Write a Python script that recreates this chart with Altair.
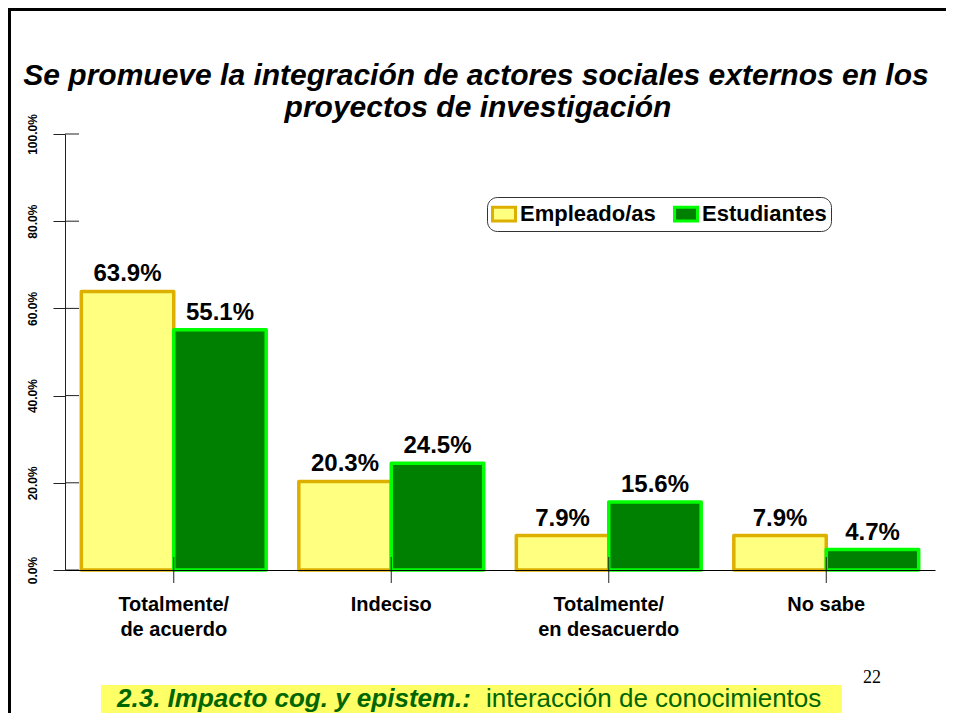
import altair as alt
import pandas as pd

categories = ["Totalmente/\nde acuerdo", "Indeciso", "Totalmente/\nen desacuerdo", "No sabe"]
series = ["Empleado/as", "Estudiantes"]
empleados = [0.639, 0.203, 0.079, 0.079]
estudiantes = [0.551, 0.245, 0.156, 0.047]
y_ticks = [0.0, 0.2, 0.4, 0.6, 0.8, 1.0]
fill_colors = ["#FFFF80", "#008000"]
stroke_colors = ["#DDB000", "#00FF00"]
title_lines = ["Se promueve la integración de actores sociales externos en los",
               "proyectos de investigación"]
footer_bold = "2.3. Impacto cog. y epistem.:"
footer_regular = "interacción de conocimientos"
page_number = "22"

rows = []
for c, a, b in zip(categories, empleados, estudiantes):
    rows.append({"Categoria": c, "Grupo": series[0], "Valor": a})
    rows.append({"Categoria": c, "Grupo": series[1], "Valor": b})
df = pd.DataFrame(rows)

W, H = 870, 436
FONT = "Liberation Sans"

xscale = alt.Scale(domain=categories, paddingInner=0.15, paddingOuter=0.075)
yscale = alt.Scale(domain=[0, 1])

x_enc = alt.X("Categoria:N", scale=xscale, sort=categories,
              axis=alt.Axis(title=None, labelAngle=0, ticks=False, labelPadding=24,
                            labelFontSize=20, labelFontWeight="bold", labelFont=FONT,
                            labelColor="black", labelLineHeight=25,
                            labelExpr="split(datum.label, '\\n')",
                            domainColor="black", domainWidth=1.2, zindex=1))
y_axis = alt.Axis(title=None, values=y_ticks, format=".1%", labelAngle=-90,
                  labelAlign="center", labelBaseline="bottom", labelFontSize=12,
                  labelFontWeight="bold", labelFont=FONT, labelColor="black",
                  tickSize=12, tickColor="#222", domainColor="#222",
                  labelPadding=14, grid=False)

legend = alt.Legend(title=None, orient="none", legendX=422, legendY=63,
                    direction="horizontal", strokeColor="#333", cornerRadius=10,
                    padding=4, labelFontSize=22, labelFontWeight="bold", labelFont=FONT,
                    labelColor="black", symbolType="M-1,-0.6H1V0.6H-1Z", symbolSize=529,
                    symbolStrokeWidth=3, columnPadding=12, labelOffset=3, fillColor="white")

xoff = alt.XOffset("Grupo:N", scale=alt.Scale(domain=series, paddingInner=0))

bars = alt.Chart(df).mark_bar(strokeWidth=3.5, strokeJoin="round").encode(
    x=x_enc,
    xOffset=xoff,
    y=alt.Y("Valor:Q", scale=yscale, axis=y_axis),
    color=alt.Color("Grupo:N", scale=alt.Scale(domain=series, range=fill_colors), legend=legend),
    stroke=alt.Stroke("Grupo:N", scale=alt.Scale(domain=series, range=stroke_colors), legend=legend),
)

labels = alt.Chart(df).mark_text(dy=-10, fontSize=24, fontWeight="bold", font=FONT,
                                 color="black", baseline="alphabetic").encode(
    x=x_enc,
    xOffset=xoff,
    y=alt.Y("Valor:Q", scale=yscale, axis=y_axis),
    text=alt.Text("Valor:Q", format=".1%"),
)

tick_df = pd.DataFrame({"Valor": y_ticks})
inner_ticks = alt.Chart(tick_df).mark_rule(color="#222", strokeWidth=1).encode(
    y=alt.Y("Valor:Q", scale=yscale, axis=y_axis),
    x=alt.value(0), x2=alt.value(14),
)

cat_df = pd.DataFrame({"Categoria": categories})
cat_ticks = alt.Chart(cat_df).mark_rule(color="#222", strokeWidth=1).encode(
    x=x_enc, y=alt.value(H - 13), y2=alt.value(H + 13),
)

one = pd.DataFrame({"t": [""]})

title1 = alt.Chart(pd.DataFrame({"t": [title_lines[0]]})).mark_text(
    fontSize=30, fontWeight="bold", fontStyle="italic", font=FONT, color="black",
    align="center", baseline="alphabetic").encode(
    text="t:N", x=alt.value(411), y=alt.value(-49))
title2 = alt.Chart(pd.DataFrame({"t": [title_lines[1]]})).mark_text(
    fontSize=30, fontWeight="bold", fontStyle="italic", font=FONT, color="black",
    align="center", baseline="alphabetic").encode(
    text="t:N", x=alt.value(413), y=alt.value(-17))

footer_box = alt.Chart(one).mark_rect(color="#FFFF66").encode(
    x=alt.value(36), x2=alt.value(777), y=alt.value(551), y2=alt.value(620))
footer1 = alt.Chart(pd.DataFrame({"t": [footer_bold]})).mark_text(
    fontSize=26, fontWeight="bold", fontStyle="italic", font=FONT, color="#006600",
    align="left", baseline="alphabetic").encode(
    text="t:N", x=alt.value(52), y=alt.value(573))
footer2 = alt.Chart(pd.DataFrame({"t": [footer_regular]})).mark_text(
    fontSize=26, font=FONT, color="#006600",
    align="left", baseline="alphabetic").encode(
    text="t:N", x=alt.value(421), y=alt.value(573))
page_num = alt.Chart(pd.DataFrame({"t": [page_number]})).mark_text(
    fontSize=18, font="Liberation Serif", color="black",
    align="left", baseline="alphabetic").encode(
    text="t:N", x=alt.value(798), y=alt.value(549))

border_left = alt.Chart(one).mark_rule(color="black", strokeWidth=3).encode(
    x=alt.value(-55.5), y=alt.value(-126), y2=alt.value(600))
border_top = alt.Chart(one).mark_rule(color="black", strokeWidth=3).encode(
    y=alt.value(-124.5), x=alt.value(-57), x2=alt.value(881))

chart = alt.layer(
    footer_box, footer1, footer2, page_num,
    bars, labels, inner_ticks, cat_ticks,
    title1, title2, border_left, border_top,
).properties(
    width=W, height=H,
    padding={"left": 57, "top": 126, "right": 11, "bottom": 143},
    autosize=alt.AutoSizeParams(type="none"),
    background="white",
).configure_view(stroke=None)

chart.save("out.html", embed_options={"renderer": "svg", "actions": False})
